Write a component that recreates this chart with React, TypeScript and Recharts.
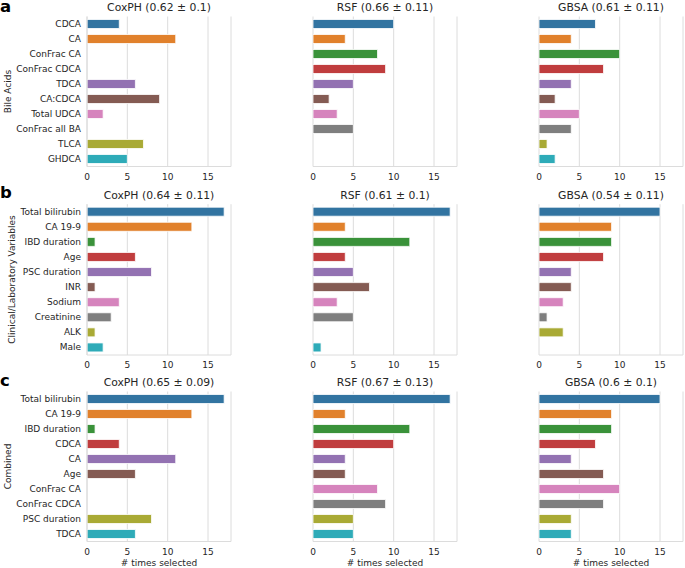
import React from "react";
import { BarChart, Bar, XAxis, YAxis, CartesianGrid, Cell } from "recharts";

const palette = ["#3274a1", "#e1812c", "#3a923a", "#c03d3e", "#9372b2", "#845b53", "#d684bd", "#7f7f7f", "#a9aa35", "#2eabb8"];

const bileCategories = ["CDCA", "CA", "ConFrac CA", "ConFrac CDCA", "TDCA", "CA:CDCA", "Total UDCA", "ConFrac all BA", "TLCA", "GHDCA"];
const bileCox = [4, 11, 0, 0, 6, 9, 2, 0, 7, 5];
const bileRsf = [10, 4, 8, 9, 5, 2, 3, 5, 0, 0];
const bileGbsa = [7, 4, 10, 8, 4, 2, 5, 4, 1, 2];

const clinCategories = ["Total bilirubin", "CA 19-9", "IBD duration", "Age", "PSC duration", "INR", "Sodium", "Creatinine", "ALK", "Male"];
const clinCox = [17, 13, 1, 6, 8, 1, 4, 3, 1, 2];
const clinRsf = [17, 4, 12, 4, 5, 7, 3, 5, 0, 1];
const clinGbsa = [15, 9, 9, 8, 4, 4, 3, 1, 3, 0];

const combCategories = ["Total bilirubin", "CA 19-9", "IBD duration", "CDCA", "CA", "Age", "ConFrac CA", "ConFrac CDCA", "PSC duration", "TDCA"];
const combCox = [17, 13, 1, 4, 11, 6, 0, 0, 8, 6];
const combRsf = [17, 4, 12, 10, 4, 4, 8, 9, 5, 5];
const combGbsa = [15, 9, 9, 7, 4, 8, 10, 8, 4, 4];

const rowTitles = [
  ["CoxPH (0.62 ± 0.1)", "RSF (0.66 ± 0.11)", "GBSA (0.61 ± 0.11)"],
  ["CoxPH (0.64 ± 0.11)", "RSF (0.61 ± 0.1)", "GBSA (0.54 ± 0.11)"],
  ["CoxPH (0.65 ± 0.09)", "RSF (0.67 ± 0.13)", "GBSA (0.6 ± 0.1)"],
];
const rowLabels = ["Bile Acids", "Clinical/Laboratory Variables", "Combined"];
const panelLetters = ["a", "b", "c"];
const xTicks = [0, 5, 10, 15];
const xLabel = "# times selected";

const FONT = "DejaVu Sans";
const TEXT = "#262626";
const GRID = "#dcdcdc";

const cols = [
  { left: 0, width: 233, ml: 0 },
  { left: 230, width: 229, ml: 83 },
  { left: 455, width: 230, ml: 84 },
];
const rows = [
  { top: 0, height: 185, mt: 16.5, xh: 18.5 },
  { top: 185, height: 189, mt: 19.2, xh: 19 },
  { top: 370, height: 198, mt: 21.5, xh: 26.5 },
];

function YTick(props: any) {
  const { x, y, payload } = props;
  return (
    <text x={x} y={y} textAnchor="end" dominantBaseline="central" fontSize={9} fill={TEXT} fontFamily={FONT}>
      {payload.value}
    </text>
  );
}

function Panel({ categories, values, col, row }: any) {
  const c = cols[col];
  const r = rows[row];
  const data = categories.map((name: string, i: number) => ({ name, value: values[i] }));
  return (
    <div style={{ position: "absolute", left: c.left, top: r.top }}>
      <BarChart
        width={c.width}
        height={r.height}
        data={data}
        layout="vertical"
        barCategoryGap="20%"
        margin={{ top: r.mt, right: 2, left: c.ml, bottom: 0 }}
      >
        <CartesianGrid horizontal={false} vertical={true} stroke={GRID} strokeWidth={1} />
        <XAxis
          type="number"
          domain={[0, 17.85]}
          ticks={xTicks}
          allowDataOverflow
          height={r.xh}
          tickLine={false}
          tickSize={5}
          tickMargin={2}
          axisLine={{ stroke: GRID }}
          tick={{ fontSize: 9, fill: TEXT, fontFamily: FONT }}
        />
        <YAxis
          type="category"
          dataKey="name"
          hide={col !== 0}
          width={87}
          tickLine={false}
          tickSize={4}
          tickMargin={2}
          interval={0}
          axisLine={{ stroke: GRID }}
          tick={<YTick />}
        />
        <Bar dataKey="value" isAnimationActive={false} stroke="#ffffff" strokeWidth={0.8}>
          {data.map((_: any, i: number) => (
            <Cell key={i} fill={palette[i % palette.length]} />
          ))}
        </Bar>
      </BarChart>
    </div>
  );
}

const plotCenters = [159, 385, 611];
const titleY = [7.5, 195, 382.5];
const labelCenterY = [91.5, 279.5, 466.5];
const labelX = [7.5, 12, 7.5];
const letterY = [11.5, 197.5, 385.5];

export default function App() {
  const sets = [
    [bileCox, bileRsf, bileGbsa],
    [clinCox, clinRsf, clinGbsa],
    [combCox, combRsf, combGbsa],
  ];
  const cats = [bileCategories, clinCategories, combCategories];
  return (
    <div style={{ position: "fixed", left: 0, top: 0, width: 685, height: 568, background: "#fff", fontFamily: FONT }}>
      {sets.map((rowSet, ri) =>
        rowSet.map((vals, ci) => (
          <Panel key={`${ri}-${ci}`} categories={cats[ri]} values={vals} col={ci} row={ri} />
        ))
      )}
      <svg width={685} height={568} style={{ position: "absolute", left: 0, top: 0, pointerEvents: "none" }}>
        {rowTitles.map((titles, ri) =>
          titles.map((t, ci) => (
            <text
              key={`t${ri}${ci}`}
              x={plotCenters[ci]}
              y={titleY[ri]}
              textAnchor="middle"
              dominantBaseline="central"
              fontSize={10.8}
              fill={TEXT}
              fontFamily={FONT}
            >
              {t}
            </text>
          ))
        )}
        {rowLabels.map((l, ri) => (
          <text
            key={`l${ri}`}
            x={labelX[ri]}
            y={labelCenterY[ri]}
            textAnchor="middle"
            dominantBaseline="central"
            fontSize={9}
            fill={TEXT}
            fontFamily={FONT}
            transform={`rotate(-90 ${labelX[ri]} ${labelCenterY[ri]})`}
          >
            {l}
          </text>
        ))}
        {panelLetters.map((p, ri) => (
          <text key={`p${ri}`} x={0} y={letterY[ri]} fontSize={16.5} fontWeight="bold" fill="#000" fontFamily={FONT}>
            {p}
          </text>
        ))}
        {plotCenters.map((cx, ci) => (
          <text
            key={`x${ci}`}
            x={cx}
            y={563}
            textAnchor="middle"
            dominantBaseline="central"
            fontSize={9}
            fill={TEXT}
            fontFamily={FONT}
          >
            {xLabel}
          </text>
        ))}
      </svg>
    </div>
  );
}
